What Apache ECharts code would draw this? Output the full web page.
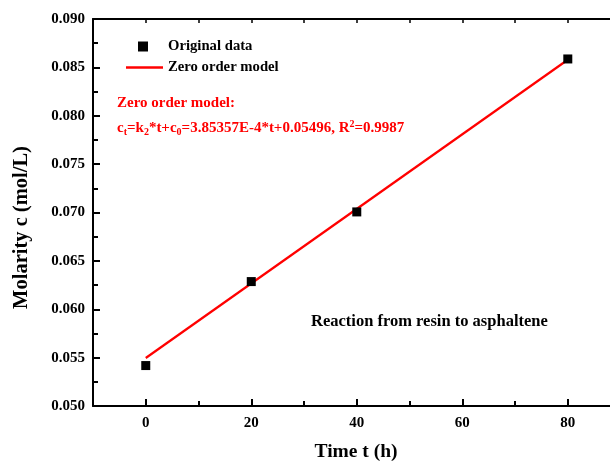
<!DOCTYPE html>
<html><head><meta charset="utf-8">
<script src="https://cdn.jsdelivr.net/npm/echarts@6/dist/echarts.min.js"></script>
<style>html,body{margin:0;padding:0;background:#fff}#c{width:610px;height:467px}</style>
</head><body><div id="c"></div>
<script>
const timeH = [0, 20, 40, 80];
const molarity = [0.05418, 0.06286, 0.07006, 0.08587];
const fitT = [0, 80];
const fitC = [0.05496, 0.08579];
const xMajorTicks = [0, 20, 40, 60, 80];
const xMinorTicks = [-10, 10, 30, 50, 70];

const F = '"Liberation Serif", "Times New Roman", serif';
const chart = echarts.init(document.getElementById('c'));
const baseX = {type:'value', min:-10, max:88, gridIndex:0};
chart.setOption({
  animation:false,
  grid:{left:93, top:19, right:0, bottom:59},
  xAxis:[
    Object.assign({}, baseX, {
      position:'bottom', name:'Time t (h)', nameLocation:'middle', nameGap:36,
      nameTextStyle:{fontFamily:F, fontWeight:'bold', fontSize:19.5, color:'#000', padding:[0,0,0,9]},
      axisLine:{onZero:false, lineStyle:{color:'#000', width:2}},
      axisTick:{inside:true, length:7, lineStyle:{width:2, color:'#000'}, customValues:xMajorTicks},
      axisLabel:{fontFamily:F, fontWeight:'bold', fontSize:15, color:'#000', margin:10, customValues:xMajorTicks},
      splitLine:{show:false}
    }),
    Object.assign({}, baseX, {
      position:'bottom',
      axisLine:{show:false, onZero:false},
      axisTick:{inside:true, length:5, lineStyle:{width:2, color:'#000'}, customValues:xMinorTicks},
      axisLabel:{show:false}, splitLine:{show:false}
    }),
    Object.assign({}, baseX, {
      position:'top',
      axisLine:{onZero:false, lineStyle:{color:'#000', width:2}},
      axisTick:{inside:true, length:4, lineStyle:{width:1.5, color:'#000'}, customValues:xMajorTicks.concat(xMinorTicks)},
      axisLabel:{show:false}, splitLine:{show:false}
    })
  ],
  yAxis:[{
    type:'value', min:0.05, max:0.09, interval:0.005, position:'left',
    name:'Molarity c (mol/L)', nameLocation:'middle', nameGap:61,
    nameTextStyle:{fontFamily:F, fontWeight:'bold', fontSize:20.5, color:'#000', padding:[0,30,0,0]},
    axisLine:{show:true, onZero:false, lineStyle:{color:'#000', width:2}},
    axisTick:{inside:true, length:7, lineStyle:{width:2, color:'#000'}},
    minorTick:{show:true, splitNumber:2, length:5, lineStyle:{width:2, color:'#000'}},
    axisLabel:{fontFamily:F, fontWeight:'bold', fontSize:15, color:'#000', margin:8,
      formatter:v=>v.toFixed(3)},
    splitLine:{show:false}
  }],
  legend:[
    {data:['Original data'], left:138, top:39, padding:0, orient:'vertical', itemWidth:10, itemHeight:10,
     itemStyle:{opacity:1},
     textStyle:{fontFamily:F, fontWeight:'bold', fontSize:14.7, color:'#000', padding:[0,0,0,15]}},
    {data:[{name:'Zero order model', icon:'rect'}], left:126, top:60, padding:0, orient:'vertical', itemWidth:37, itemHeight:2.5,
     textStyle:{fontFamily:F, fontWeight:'bold', fontSize:14.7, color:'#000'}}
  ],
  graphic:[
    {type:'text', left:117, top:96, style:{text:'Zero order model:', fontFamily:F, fontWeight:'bold', fontSize:15, fill:'#f00'}},
    {type:'text', left:117, top:119, style:{
      text:'c{sub|t}=k{sub|2}*t+c{sub|0}=3.85357E-4*t+0.05496, R{sup|2}=0.9987',
      fontFamily:F, fontWeight:'bold', fontSize:15, fill:'#f00',
      rich:{sub:{fontFamily:F, fontWeight:'bold', fontSize:10, fill:'#f00', verticalAlign:'bottom', padding:[8,0,0,0]},
            sup:{fontFamily:F, fontWeight:'bold', fontSize:10, fill:'#f00', verticalAlign:'top', padding:[0,0,8,0]}}
    }},
    {type:'text', left:311, top:313, style:{text:'Reaction from resin to asphaltene', fontFamily:F, fontWeight:'bold', fontSize:16.5, fill:'#000'}}
  ],
  series:[
    {name:'Zero order model', type:'line', xAxisIndex:0, data:fitT.map((t,i)=>[t,fitC[i]]),
     symbol:'none', lineStyle:{color:'#f00', width:2.2}, itemStyle:{color:'#f00'}, z:2},
    {name:'Original data', type:'scatter', xAxisIndex:0, data:timeH.map((t,i)=>[t,molarity[i]]),
     symbol:'rect', symbolSize:9, itemStyle:{color:'#000', opacity:1}, z:3}
  ]
});
</script></body></html>
